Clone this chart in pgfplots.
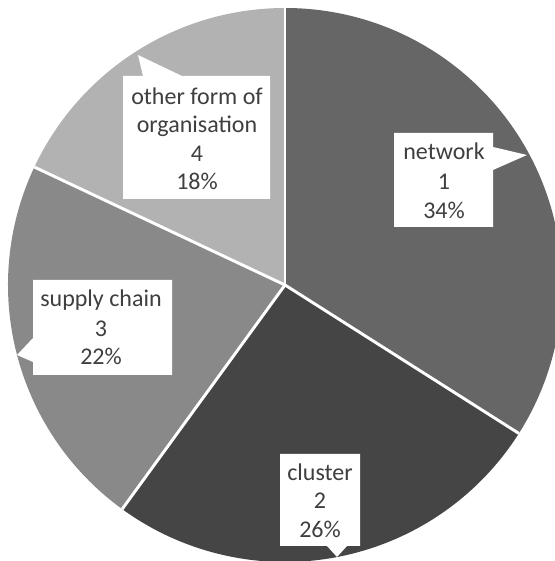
\documentclass[border=0pt]{standalone}
\usepackage{pgfplots}
\pgfplotsset{compat=1.18}
\usepackage{fontspec}
\setmainfont{Carlito}
\definecolor{cnet}{HTML}{666666}
\definecolor{cclu}{HTML}{454545}
\definecolor{csup}{HTML}{898989}
\definecolor{coth}{HTML}{B2B2B2}
\definecolor{ctxt}{HTML}{3F3F3F}
\begin{document}
\begin{tikzpicture}
% data: share of each form (percent)
\def\vA{34}% network
\def\vB{26}% cluster
\def\vC{22}% supply chain
\def\vD{18}% other form of organisation
\pgfmathsetmacro\aA{90}
\pgfmathsetmacro\aB{\aA-3.6*\vA}
\pgfmathsetmacro\aC{\aB-3.6*\vB}
\pgfmathsetmacro\aD{\aC-3.6*\vC}
\pgfmathsetmacro\aE{\aD-3.6*\vD}
\def\R{207.75pt}
\tikzset{lbl/.style={anchor=base, text=ctxt, inner sep=0pt, font=\fontsize{18}{21.5}\selectfont}}
\begin{axis}[x=0.75pt, y=0.75pt, xmin=0, xmax=555, ymin=0, ymax=561,
  hide axis, clip=false]
\path (axis cs:0,0) rectangle (axis cs:555,561);
\fill[cnet, overlay] (axis cs:285,276) -- ++(\aA:\R) arc[start angle=\aA, end angle=\aB, radius=\R] -- cycle;
\fill[cclu, overlay] (axis cs:285,276) -- ++(\aB:\R) arc[start angle=\aB, end angle=\aC, radius=\R] -- cycle;
\fill[csup, overlay] (axis cs:285,276) -- ++(\aC:\R) arc[start angle=\aC, end angle=\aD, radius=\R] -- cycle;
\fill[coth, overlay] (axis cs:285,276) -- ++(\aD:\R) arc[start angle=\aD, end angle=\aE, radius=\R] -- cycle;
\draw[white, line width=2.2pt, overlay] (axis cs:285,276) -- ++(\aA:\R);
\draw[white, line width=2.2pt, overlay] (axis cs:285,276) -- ++(\aB:\R);
\draw[white, line width=2.2pt, overlay] (axis cs:285,276) -- ++(\aC:\R);
\draw[white, line width=2.2pt, overlay] (axis cs:285,276) -- ++(\aD:\R);
% callout: network
\fill[white] (axis cs:394,428) -- (axis cs:493,428) -- (axis cs:493,414) -- (axis cs:527,406) -- (axis cs:493,391) -- (axis cs:493,334) -- (axis cs:394,334) -- cycle;
\node[lbl] at (axis cs:444,401) {network};
\node[lbl] at (axis cs:444,371) {1};
\node[lbl] at (axis cs:444,342) {34\%};
% callout: cluster
\fill[white] (axis cs:280,107) -- (axis cs:360,107) -- (axis cs:360,15) -- (axis cs:347,15) -- (axis cs:337,4) -- (axis cs:327,15) -- (axis cs:280,15) -- cycle;
\node[lbl] at (axis cs:320,80) {cluster};
\node[lbl] at (axis cs:320,52) {2};
\node[lbl] at (axis cs:320,23) {26\%};
% callout: supply chain
\fill[white] (axis cs:33,281) -- (axis cs:172,281) -- (axis cs:172,186) -- (axis cs:33,186) -- (axis cs:33,199) -- (axis cs:17,206) -- (axis cs:33,223) -- cycle;
\node[lbl] at (axis cs:101,254) {supply chain};
\node[lbl] at (axis cs:101,224) {3};
\node[lbl] at (axis cs:101,196) {22\%};
% callout: other form of organisation
\fill[white] (axis cs:123,485) -- (axis cs:143,485) -- (axis cs:138,506) -- (axis cs:182,485) -- (axis cs:270,485) -- (axis cs:270,362) -- (axis cs:123,362) -- cycle;
\node[lbl] at (axis cs:197,456) {other form of};
\node[lbl] at (axis cs:197,428) {organisation};
\node[lbl] at (axis cs:197,399) {4};
\node[lbl] at (axis cs:197,371) {18\%};
\end{axis}
\end{tikzpicture}
\end{document}
